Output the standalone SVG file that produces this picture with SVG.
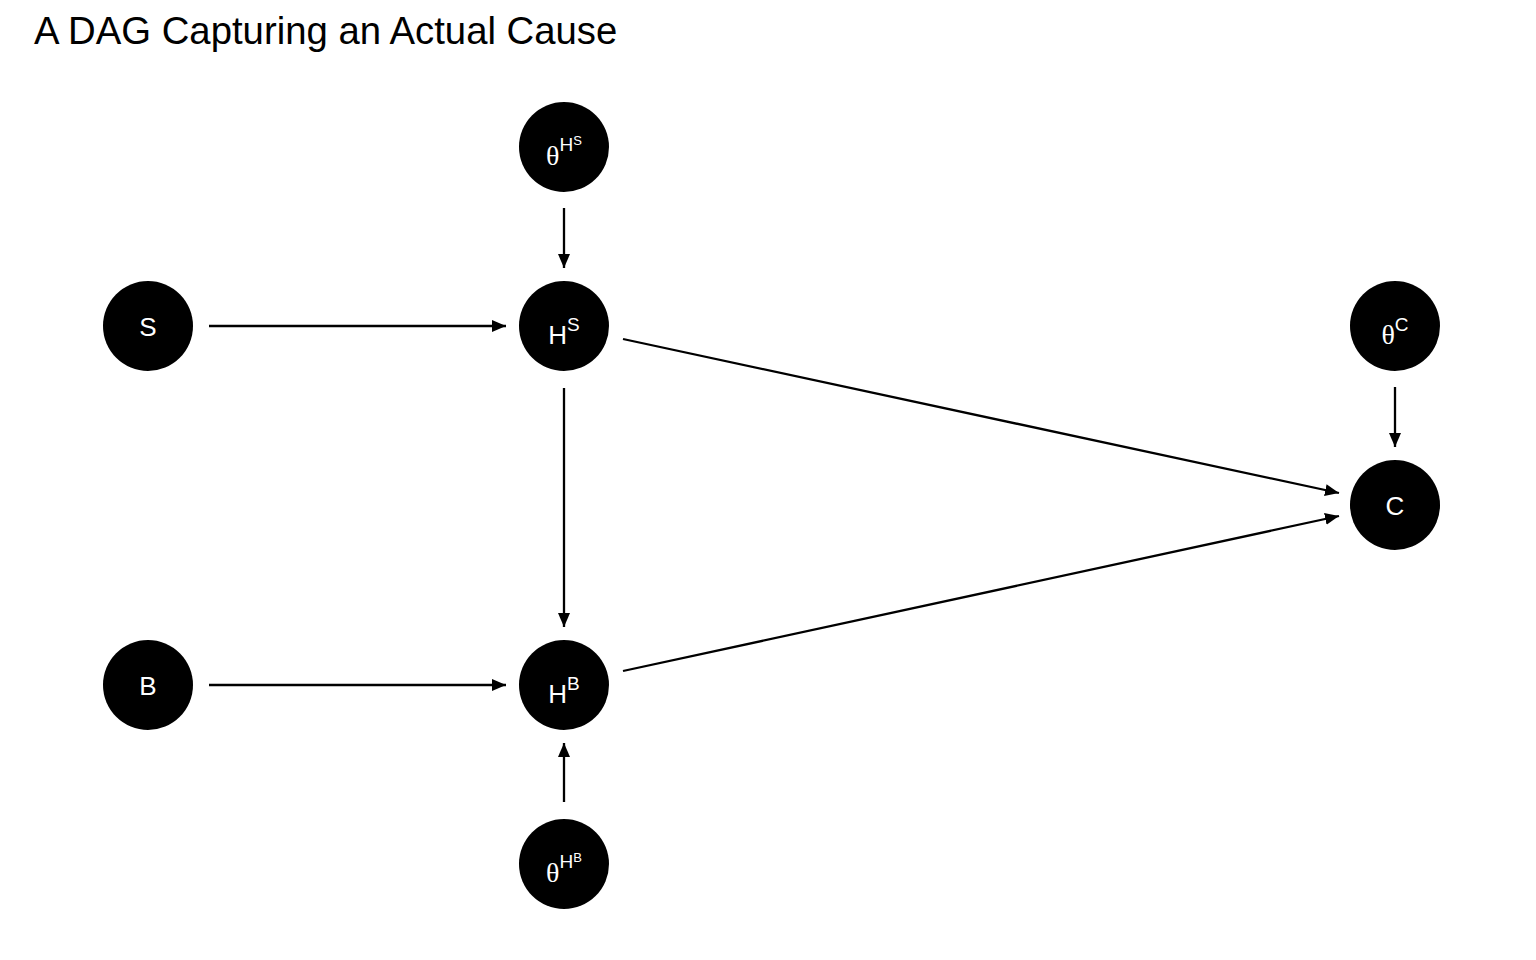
<svg xmlns="http://www.w3.org/2000/svg" width="1536" height="960" viewBox="0 0 1536 960">
<style>
.n{fill:#000}
.t{fill:#fff;font-family:"Liberation Sans",Arial,sans-serif;font-size:26px;text-anchor:middle}
.th{font-family:"Liberation Serif","DejaVu Serif",serif;font-size:28px}
.sup{font-size:19px}
.sup2{font-size:13px}
.e{stroke:#000;stroke-width:2.3;fill:none;marker-end:url(#ah)}
.title{font-family:"Liberation Sans",Arial,sans-serif;font-size:38.3px;fill:#000}
</style>
<defs>
<marker id="ah" viewBox="0 0 14 12" refX="14" refY="6" markerWidth="14" markerHeight="12" markerUnits="userSpaceOnUse" orient="auto">
<path d="M0,0 L14,6 L0,12 Z" fill="#000"/>
</marker>
</defs>
<rect width="1536" height="960" fill="#fff"/>
<text class="title" x="34" y="44">A DAG Capturing an Actual Cause</text>
<g id="edges">
<line class="e" x1="209" y1="326" x2="506" y2="326"/>
<line class="e" x1="564" y1="208" x2="564" y2="268"/>
<line class="e" x1="564" y1="388" x2="564" y2="627"/>
<line class="e" x1="209" y1="685" x2="506" y2="685"/>
<line class="e" x1="564" y1="802" x2="564" y2="743"/>
<line class="e" x1="1395" y1="387" x2="1395" y2="447"/>
<line class="e" x1="623" y1="339" x2="1339" y2="493"/>
<line class="e" x1="623" y1="671" x2="1339" y2="516"/>
</g>
<g id="node-thetaHS"><circle class="n" cx="564" cy="147" r="45"/><text class="t" x="564" y="165"><tspan class="th">θ</tspan><tspan class="sup" dy="-14">H</tspan><tspan class="sup2" dy="-6">S</tspan></text></g>
<g id="node-S"><circle class="n" cx="148" cy="326" r="45"/><text class="t" x="148" y="336">S</text></g>
<g id="node-HS"><circle class="n" cx="564" cy="326" r="45"/><text class="t" x="564" y="344">H<tspan class="sup" dy="-13">S</tspan></text></g>
<g id="node-thetaC"><circle class="n" cx="1395" cy="326" r="45"/><text class="t" x="1395" y="344"><tspan class="th">θ</tspan><tspan class="sup" dy="-13">C</tspan></text></g>
<g id="node-C"><circle class="n" cx="1395" cy="505" r="45"/><text class="t" x="1395" y="515">C</text></g>
<g id="node-B"><circle class="n" cx="148" cy="685" r="45"/><text class="t" x="148" y="695">B</text></g>
<g id="node-HB"><circle class="n" cx="564" cy="685" r="45"/><text class="t" x="564" y="703">H<tspan class="sup" dy="-13">B</tspan></text></g>
<g id="node-thetaHB"><circle class="n" cx="564" cy="864" r="45"/><text class="t" x="564" y="882"><tspan class="th">θ</tspan><tspan class="sup" dy="-14">H</tspan><tspan class="sup2" dy="-6">B</tspan></text></g>
</svg>
